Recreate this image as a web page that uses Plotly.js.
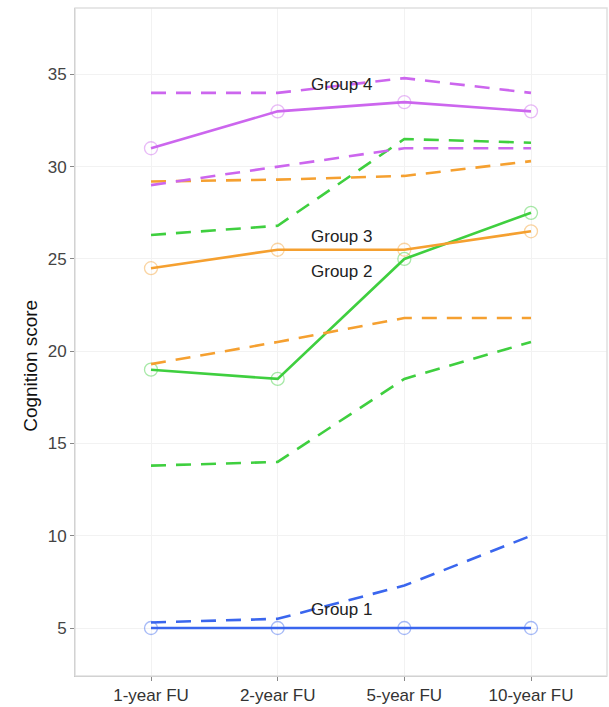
<!DOCTYPE html>
<html><head><meta charset="utf-8">
<script src="https://cdn.plot.ly/plotly-3.0.1.min.js"></script>
<style>body{margin:0;background:#fff}#chart{width:609px;height:707px}</style>
</head><body><div id="chart"></div>
<script>
const categories = ["1-year FU","2-year FU","5-year FU","10-year FU"];
const groups = ["Group 1","Group 2","Group 3","Group 4"];
const colors = ["#3a66ee","#3fcf3f","#f5a030","#cc66ee"];
const g1Mean = [5.0, 5.0, 5.0, 5.0];
const g1Upper = [5.3, 5.5, 7.3, 10.0];
const g2Mean = [19.0, 18.5, 25.0, 27.5];
const g2Upper = [26.3, 26.8, 31.5, 31.3];
const g2Lower = [13.8, 14.0, 18.5, 20.5];
const g3Mean = [24.5, 25.5, 25.5, 26.5];
const g3Upper = [29.2, 29.3, 29.5, 30.3];
const g3Lower = [19.3, 20.5, 21.8, 21.8];
const g4Mean = [31.0, 33.0, 33.5, 33.0];
const g4Upper = [34.0, 34.0, 34.8, 34.0];
const g4Lower = [29.0, 30.0, 31.0, 31.0];
const labelY = [6.0, 24.3, 26.2, 34.45];

const means = [g1Mean, g2Mean, g3Mean, g4Mean];
const bands = [[g1Upper], [g2Upper, g2Lower], [g3Upper, g3Lower], [g4Upper, g4Lower]];
const xi = categories.map((c,i)=>i);
const FONT = 'Liberation Sans, Arial, sans-serif';
const traces = [];
for (let g=0; g<4; g++){
  bands[g].forEach(b=>traces.push({x:xi,y:b,mode:'lines',type:'scatter',
    line:{color:colors[g],width:2.6,dash:'15px,10px'},showlegend:false,hoverinfo:'skip'}));
  traces.push({x:xi,y:means[g],mode:'lines',type:'scatter',
    line:{color:colors[g],width:2.6},showlegend:false});
  traces.push({x:xi,y:means[g],mode:'markers',type:'scatter',
    marker:{symbol:'circle-open',size:13,color:colors[g],opacity:0.45,line:{width:1.3}},showlegend:false});
}
const annotations = groups.map((g,i)=>({x:1.5,y:labelY[i],xref:'x',yref:'y',text:g,showarrow:false,
  font:{family:FONT,size:17,color:'#222'}}));
annotations.push({xref:'paper',yref:'paper',x:-0.085,y:0.464,xanchor:'center',yanchor:'middle',
  text:'Cognition score',textangle:-90,
  showarrow:false,font:{family:FONT,size:19,color:'#111'}});
const layout = {
  width:609,height:707,margin:{l:75,r:2,t:8,b:31},
  paper_bgcolor:'#fff',plot_bgcolor:'#fff',
  xaxis:{range:[-0.6,3.6],tickvals:xi,ticktext:categories,showgrid:true,gridcolor:'#f2f2f2',
    zeroline:false,showline:true,linecolor:'#aaa',linewidth:1,ticks:'outside',ticklen:4,tickcolor:'#888',
    tickfont:{family:FONT,size:17,color:'#333'}},
  yaxis:{range:[2.4,38.6],tickvals:[5,10,15,20,25,30,35],showgrid:true,gridcolor:'#f2f2f2',
    zeroline:false,showline:true,linecolor:'#aaa',linewidth:1,ticks:'outside',ticklen:4,tickcolor:'#888',
    tickfont:{family:FONT,size:17,color:'#444'}},
  shapes:[{type:'rect',xref:'paper',yref:'paper',x0:0,x1:1,y0:0,y1:1,line:{color:'#e0e0e0',width:1.5}}],
  annotations:annotations
};
Plotly.newPlot('chart',traces,layout,{displayModeBar:false,staticPlot:true});
</script></body></html>
